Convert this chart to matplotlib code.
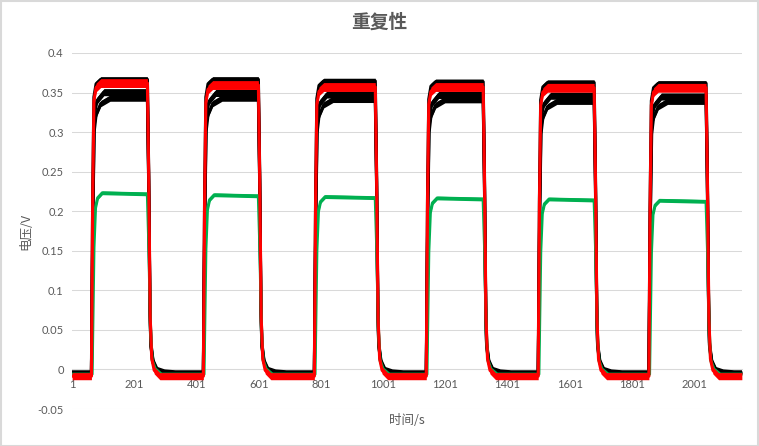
import numpy as np
import matplotlib.pyplot as plt
from matplotlib.patches import Rectangle

# x axis: sample number (category axis in the original sheet)
N_POINTS = 2155
rise_idx = [63, 423, 780, 1140, 1500, 1856]
fall_idx = [243, 600, 976, 1323, 1680, 2040]
x_ticks = [1, 201, 401, 601, 801, 1001, 1201, 1401, 1601, 1801, 2001]
y_ticks = [-0.05, 0, 0.05, 0.1, 0.15, 0.2, 0.25, 0.3, 0.35, 0.4]
y_tick_labels = ['-0.05', '0', '0.05', '0.1', '0.15', '0.2', '0.25', '0.3', '0.35', '0.4']

# plateau level of each pulse (V)
black_top_high = [0.3666, 0.3666, 0.3646, 0.3636, 0.3626, 0.3616]
black_mid_high = [0.3505, 0.3495, 0.3475, 0.347, 0.346, 0.345]
black_low_high = [0.343, 0.343, 0.3414, 0.341, 0.339, 0.339]
green_high = [0.2225, 0.220, 0.2177, 0.216, 0.2147, 0.213]
red_high = [0.362, 0.3595, 0.357, 0.357, 0.356, 0.356]

# resting level between pulses (V)
black_top_low = -0.003
black_mid_low = -0.004
black_low_low = -0.005
green_low = -0.006
red_low = -0.0085

# noise band half-width on plateau / at rest (V)
black_top_noise = (0.0035, 0.0015)
black_mid_noise = (0.0045, 0.0015)
black_low_noise = (0.004, 0.0015)
green_noise = (0.0023, 0.0015)
red_noise = (0.0056, 0.0045)

# edge shapes: (offset in samples, fraction of the step)
fast_rise = [(0, 0.0), (4, 0.6), (8, 0.94), (15, 0.985), (30, 1.0)]
mid_rise = [(0, 0.0), (5, 0.6), (9, 0.92), (18, 0.97), (40, 1.0)]
slow_rise = [(0, 0.0), (5, 0.6), (9, 0.88), (15, 0.94), (30, 0.98), (60, 1.0)]
green_rise = [(2, 0.0), (8, 0.7), (13, 0.92), (20, 0.975), (35, 1.003)]
red_fall = [(0, 1.0), (4, 0.7), (9, 0.2), (14, 0.06), (22, 0.02), (40, 0.0)]
black_fall = [(0, 1.0), (4, 0.7), (8, 0.25), (11, 0.1), (18, 0.04), (30, 0.012), (55, 0.003), (90, 0.0)]
green_fall = [(0, 0.997), (5, 0.7), (10, 0.25), (15, 0.08), (25, 0.03), (45, 0.0)]


def build(highs, low, rise, fall, noise):
    xs, ys, amps = [1], [low], [noise[1]]
    for r, f, h in zip(rise_idx, fall_idx, highs):
        for shape, start in ((rise, r), (fall, f)):
            for off, frac in shape:
                xs.append(start + off)
                ys.append(low + frac * (h - low))
                amps.append(noise[1] + min(frac, 1.0) * (noise[0] - noise[1]))
    xs.append(N_POINTS)
    ys.append(low)
    amps.append(noise[1])
    return np.array(xs), np.array(ys), np.array(amps)


series = [
    (black_top_high, black_top_low, fast_rise, black_fall, black_top_noise, '#000000'),
    (black_mid_high, black_mid_low, mid_rise, black_fall, black_mid_noise, '#000000'),
    (black_low_high, black_low_low, slow_rise, black_fall, black_low_noise, '#000000'),
    (green_high, green_low, green_rise, green_fall, green_noise, '#00b050'),
    (red_high, red_low, fast_rise, red_fall, red_noise, '#ff0000'),
]

fig = plt.figure(figsize=(7.59, 4.46), dpi=100)
ax = fig.add_axes([72 / 759, 1 - 409 / 446, 670 / 759, 356 / 446])

for i, (highs, low, rise, fall, noise, color) in enumerate(series):
    x, y, a = build(highs, low, rise, fall, noise)
    ax.fill_between(x, y - a, y + a, color=color, lw=0, zorder=2 + i * 0.1)
    ax.plot(x, y, color=color, lw=2.25, solid_joinstyle='round', zorder=2.05 + i * 0.1)

ax.set_xlim(0.5, N_POINTS + 0.5)
ax.set_ylim(-0.05, 0.4)
ax.set_yticks(y_ticks)
ax.set_yticklabels(y_tick_labels)
ax.set_xticks(x_ticks)
ax.set_xticklabels([str(t) for t in x_ticks])

ax.grid(axis='y', color='#d9d9d9', lw=0.75)
ax.set_axisbelow(True)
for s in ['top', 'right', 'left']:
    ax.spines[s].set_visible(False)
ax.spines['bottom'].set_position(('data', 0))
ax.spines['bottom'].set_color('#d9d9d9')
ax.spines['bottom'].set_linewidth(0.75)
ax.spines['bottom'].set_zorder(1.5)

ax.tick_params(axis='both', length=0, labelsize=8, labelcolor='#595959')
ax.tick_params(axis='y', pad=6)
ax.tick_params(axis='x', pad=7)
for lab in ax.get_xticklabels() + ax.get_yticklabels():
    lab.set_family(['Lato', 'DejaVu Sans'])

fig.text(379.5 / 759, 1 - 22.5 / 446, '重复性', ha='center', va='center',
         fontsize=13.5, fontweight='bold', color='#595959', family=['Noto Sans CJK SC', 'DejaVu Sans'])
fig.text(26 / 759, 1 - 231 / 446, '电压/V', ha='center', va='center', rotation=90,
         fontsize=9, color='#595959', family=['Noto Sans CJK SC', 'DejaVu Sans'])
fig.text(407 / 759, 1 - 421 / 446, '时间/s', ha='center', va='center',
         fontsize=9, color='#595959', family=['Noto Sans CJK SC', 'DejaVu Sans'])

fig.patches.append(Rectangle((0.001, 0.001), 0.998, 0.997, transform=fig.transFigure,
                             fill=False, edgecolor='#d9d9d9', lw=1.5))

fig.savefig('out.png', dpi=100)
